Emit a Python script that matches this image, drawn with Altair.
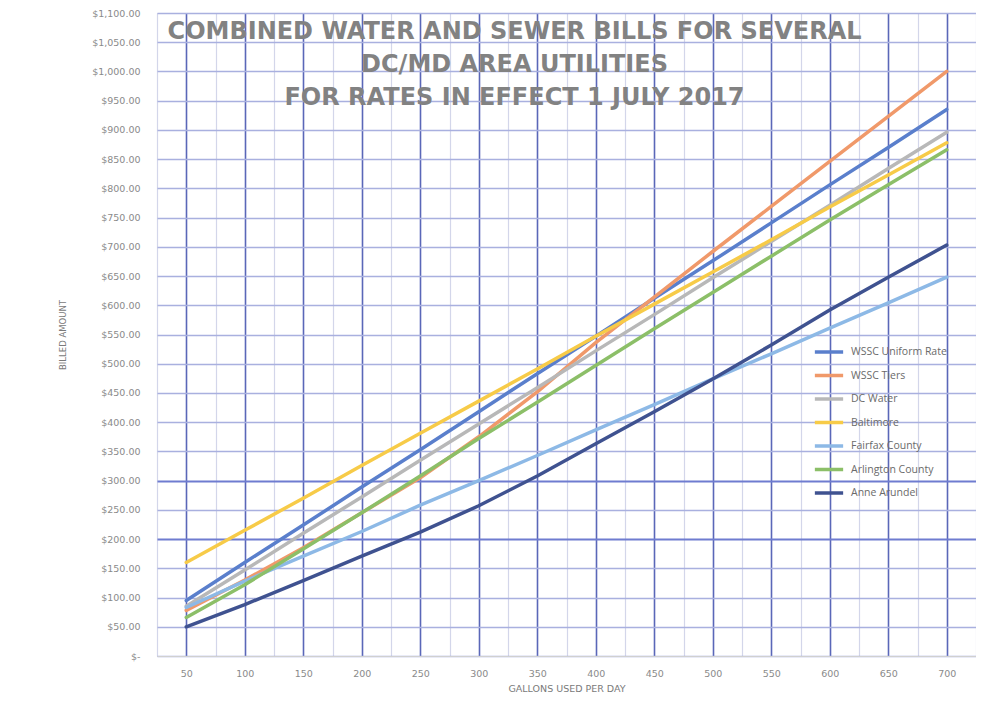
import altair as alt
import pandas as pd

gallons = [50, 100, 150, 200, 250, 300, 350, 400, 450, 500, 550, 600, 650, 700]

series_names = ["WSSC Uniform Rate", "WSSC Tiers", "DC Water", "Baltimore",
                "Fairfax County", "Arlington County", "Anne Arundel"]

wssc_uniform = [95, 160, 224, 289, 353, 418, 483, 547, 612, 676, 741, 806, 870, 935]
wssc_tiers = [78, 130, 185, 245, 305, 375, 452, 536, 614, 692, 769, 846, 923, 1000]
dc_water = [85, 147, 210, 272, 335, 397, 459, 522, 584, 647, 709, 771, 834, 896]
baltimore = [160, 215, 270, 326, 381, 436, 491, 547, 602, 657, 712, 768, 823, 878]
fairfax = [83, 128, 171, 213, 258, 300, 343, 387, 430, 474, 517, 561, 604, 648]
arlington = [66, 122, 183, 245, 308, 372, 434, 497, 560, 622, 684, 746, 806, 866]
anne_arundel = [50, 88, 129, 171, 212, 257, 308, 363, 418, 474, 532, 592, 648, 703]

series_values = [wssc_uniform, wssc_tiers, dc_water, baltimore, fairfax, arlington, anne_arundel]
colors = ["#5a7fcc", "#f0996a", "#b8b8b8", "#f7cb48", "#8db9e6", "#8cbf68", "#3f5290"]

title_lines = ["COMBINED WATER AND SEWER BILLS FOR SEVERAL",
               "DC/MD AREA UTILITIES",
               "FOR RATES IN EFFECT 1 JULY 2017"]

y_ticks = list(range(0, 1101, 50))
x_grid = sorted(gallons + [g - 25 for g in gallons] + [gallons[-1] + 25])

rows = []
for name, vals in zip(series_names, series_values):
    for g, v in zip(gallons, vals):
        rows.append({"Gallons": g, "Amount": v, "Utility": name})
df = pd.DataFrame(rows)

chart = alt.Chart(df).mark_line(strokeWidth=3.5, strokeCap="round", strokeJoin="round").encode(
    x=alt.X("Gallons:Q",
            scale=alt.Scale(domain=[x_grid[0], x_grid[-1]], nice=False, zero=False),
            axis=alt.Axis(values=x_grid, title="GALLONS USED PER DAY",
                          labelExpr="datum.value % 50 === 0 ? datum.value : ''",
                          ticks=False, domain=True, domainColor="#d0d0d0", domainWidth=1,
                          labelPadding=12, labelFontSize=9.5, labelColor="#8a8a8a",
                          labelFont="DejaVu Sans",
                          titleFontSize=9.5, titleColor="#7a7a7a", titleFont="DejaVu Sans",
                          titleFontWeight="normal", titlePadding=6,
                          grid=True,
                          gridColor={"condition": {"test": "datum.value % 50 === 0", "value": "#5a67b8"},
                                     "value": "#d3d6ea"},
                          gridWidth={"condition": {"test": "datum.value % 50 === 0", "value": 1.6},
                                     "value": 1.2})),
    y=alt.Y("Amount:Q",
            scale=alt.Scale(domain=[0, 1100], nice=False),
            axis=alt.Axis(values=y_ticks, title="BILLED AMOUNT",
                          labelExpr="datum.value === 0 ? '$-' : format(datum.value, '$,.2f')",
                          ticks=False, domain=False,
                          labelPadding=17, labelFontSize=9.5, labelColor="#8a8a8a",
                          labelFont="DejaVu Sans",
                          titleFontSize=8.5, titleColor="#7a7a7a", titleFont="DejaVu Sans",
                          titleFontWeight="normal", titlePadding=24,
                          grid=True,
                          gridColor={"condition": {"test": "datum.value === 300 || datum.value === 200",
                                                   "value": "#6f7cd0"},
                                     "value": "#a9b0df"},
                          gridWidth={"condition": {"test": "datum.value === 300 || datum.value === 200",
                                                   "value": 2},
                                     "value": 1.4})),
    color=alt.Color("Utility:N",
                    scale=alt.Scale(domain=series_names, range=colors),
                    legend=alt.Legend(title=None, orient="none", legendX=656, legendY=328,
                                      symbolType="stroke", symbolSize=800, symbolStrokeWidth=3.5,
                                      labelFontSize=10.5, labelColor="#6a6a6a", labelFont="Open Sans",
                                      clipHeight=22, rowPadding=1.5, labelOffset=6)),
    order=alt.Order("Gallons:Q"),
).properties(
    width=819,
    height=643,
    autosize=alt.AutoSizeParams(type="none"),
    padding={"left": 149, "top": 5, "right": 0, "bottom": 40},
    title=alt.TitleParams(text=title_lines, fontSize=24, font="DejaVu Sans", fontWeight="bold",
                          color="#828282", anchor="middle", frame="group",
                          offset=-102, dx=-52, lineHeight=33),
).configure_view(
    stroke=None, fill="#fcfcfc"
).configure(background="#ffffff")

chart.save("out.html", embed_options={"renderer": "svg", "actions": False})
